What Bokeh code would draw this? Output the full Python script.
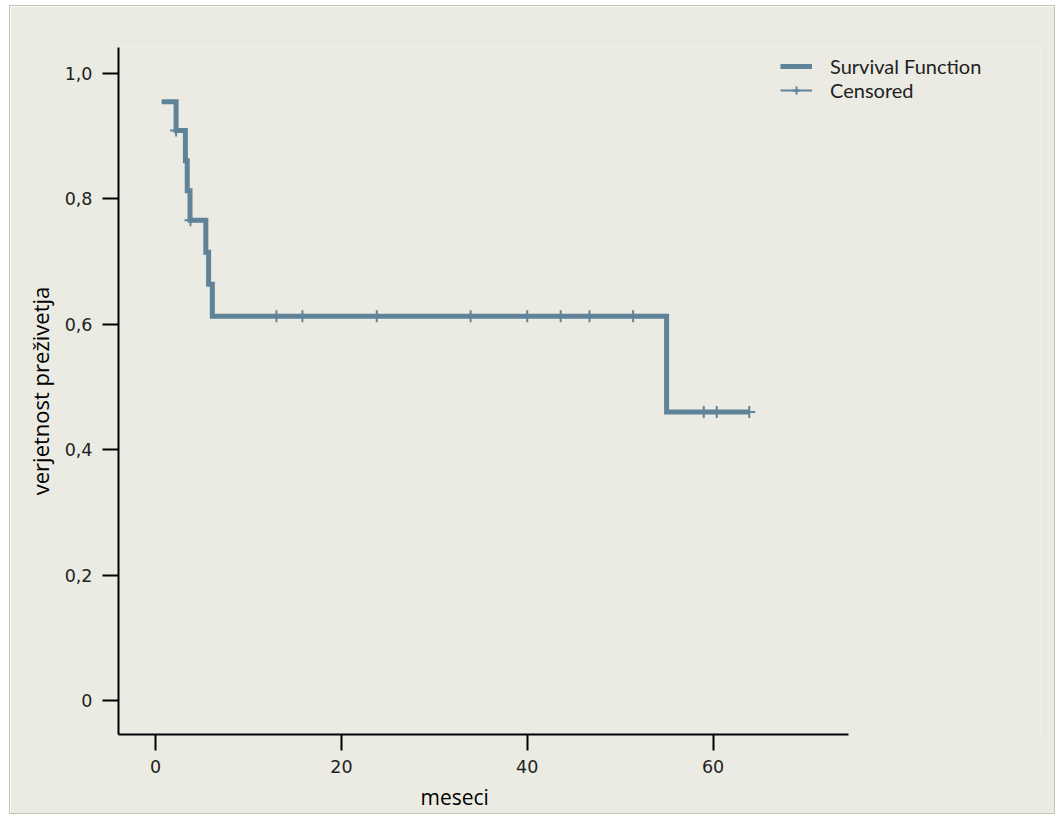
from bokeh.plotting import figure
from bokeh.models import Range1d, FixedTicker, Legend, LegendItem, Title
from bokeh.embed import file_html
from bokeh.resources import INLINE

# --- data ---
step_times = [0.65, 2.2, 3.2, 3.4, 3.7, 5.4, 5.7, 6.1, 55.0, 63.9]
step_surv = [0.955, 0.909, 0.861, 0.813, 0.766, 0.715, 0.664, 0.613, 0.460, 0.460]
cens_times = [2.2, 3.75, 13.0, 15.8, 23.8, 33.9, 40.0, 43.6, 46.7, 51.4, 59.0, 60.4, 63.9]
cens_surv = [0.909, 0.766, 0.613, 0.613, 0.613, 0.613, 0.613, 0.613, 0.613, 0.613, 0.460, 0.460, 0.460]
x_ticks = [0, 20, 40, 60]
y_ticks = [0, 0.2, 0.4, 0.6, 0.8, 1.0]
y_tick_labels = ["0", "0,2", "0,4", "0,6", "0,8", "1,0"]
series_names = ["Survival Function", "Censored"]
x_title = "meseci"
y_title = "verjetnost preživetja"

BG = "#ebebe3"
LINE = "#5f8399"

p = figure(width=1046, height=809, output_backend="svg", toolbar_location=None,
           x_range=Range1d(-4, 95.25), y_range=Range1d(-0.0541, 1.0414),
           min_border_left=108, min_border_right=16, min_border_top=41, min_border_bottom=80)
p.styles = {"border": "1px solid #c4c4b4", "margin-left": "9px", "margin-top": "5px"}
p.background_fill_color = BG
p.border_fill_color = BG
p.outline_line_color = None
p.grid.visible = False

step_r = p.step(step_times, step_surv, mode="after", line_color=LINE, line_width=5,
                line_join="miter")
# thin copy hidden beneath the thick step: gives the "Censored" key its horizontal stroke
cens_key = p.step(step_times, step_surv, mode="after", line_color=LINE, line_width=2)
cens_r = p.scatter(cens_times, cens_surv, marker="cross", size=12, line_color=LINE,
                   line_width=2)

for ax in (p.xaxis[0], p.yaxis[0]):
    ax.axis_line_width = 2
    ax.axis_line_color = "black"
    ax.major_tick_line_width = 2
    ax.major_tick_line_color = "black"
    ax.major_tick_out = 16
    ax.major_tick_in = 0
    ax.minor_tick_line_color = None
    ax.major_label_text_font = "DejaVu Sans"
    ax.major_label_text_font_size = "17.5px"
    ax.major_label_text_color = "#222222"

p.xaxis.bounds = (-4, 74.6)
p.xaxis.ticker = FixedTicker(ticks=x_ticks)
p.yaxis.ticker = FixedTicker(ticks=y_ticks)
p.yaxis.major_label_overrides = {t: l for t, l in zip(y_ticks, y_tick_labels)}
p.xaxis.major_label_standoff = 9
p.yaxis.major_label_standoff = 10

p.yaxis.axis_label = y_title
p.yaxis.axis_label_text_font = "Open Sans"
p.yaxis.axis_label_text_font_style = "normal"
p.yaxis.axis_label_text_font_size = "22px"
p.yaxis.axis_label_text_color = "black"
p.yaxis.axis_label_standoff = 7

xt = Title(text=x_title, align="left", offset=302, text_font="Open Sans",
           text_font_size="21px", text_font_style="normal", text_color="black")
p.add_layout(xt, "below")

legend = Legend(items=[LegendItem(label=series_names[0], renderers=[step_r]),
                       LegendItem(label=series_names[1], renderers=[cens_key, cens_r])],
                location=(662, 632), background_fill_alpha=0, border_line_color=None,
                padding=0, margin=0, spacing=-8, glyph_width=32, glyph_height=20,
                label_height=20, label_standoff=18,
                label_text_font="Lato", label_text_font_size="20px",
                label_text_color="#222222")
p.add_layout(legend)

open("out.html", "w").write(file_html(p, INLINE))
